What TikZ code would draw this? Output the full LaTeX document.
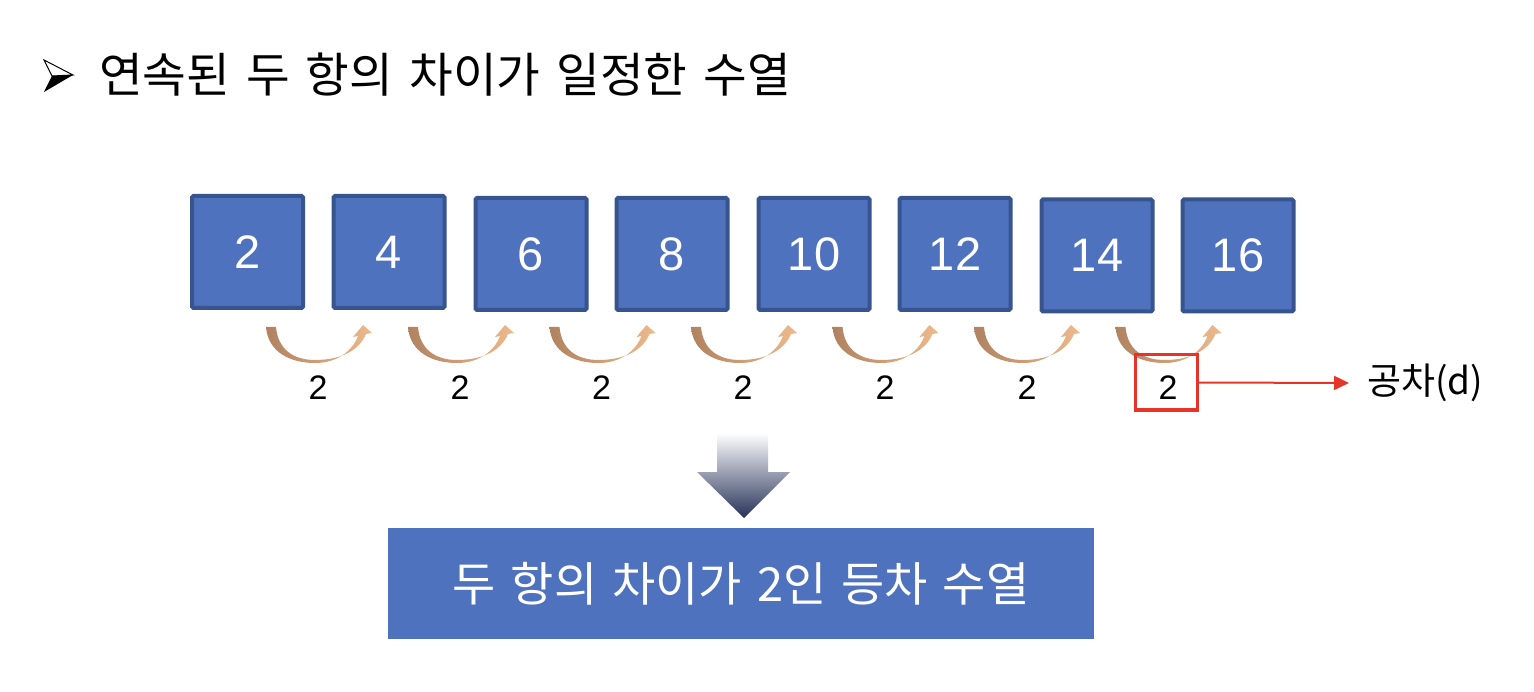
\documentclass[tikz,border=0pt]{standalone}
\usepackage{fontspec}
\setmainfont{Liberation Sans}
\newfontfamily\kr{Noto Sans CJK KR}
\usetikzlibrary{arrows.meta}
\definecolor{boxfill}{RGB}{79,114,190}
\definecolor{boxedge}{RGB}{56,84,142}
\definecolor{arcL}{RGB}{176,130,96}
\definecolor{arcR}{RGB}{238,186,140}
\definecolor{redc}{RGB}{232,52,40}
\definecolor{navy}{RGB}{38,50,88}
\newcommand\myArc[1]{%
  \shade[left color=arcL, right color=arcR, shift={(#1,0)}]
    (-52,327) .. controls (-50,352) and (-28,363) .. (-3,363)
    .. controls (18,363) and (34,352) .. (40,336)
    -- (35,337) -- (45,325) -- (54,333) -- (48,334)
    .. controls (41,351) and (22,360) .. (-3,360)
    .. controls (-24,360) and (-40,350) .. (-42,327) -- cycle;}
\newcommand\wsp{\hspace{16pt}}
\begin{document}
\begin{tikzpicture}[x=1pt,y=-1pt,
  numbox/.style={draw=boxedge, fill=boxfill, line width=4pt, rounded corners=1.5pt,
    minimum width=111pt, minimum height=112pt, inner sep=0pt, text=white,
    font=\fontsize{47}{50}\selectfont},
  difflabel/.style={inner sep=0pt, font=\fontsize{34}{40}\selectfont},
  redbox/.style={draw=redc, line width=3pt, minimum width=62pt, minimum height=55pt, inner sep=0pt}]
\useasboundingbox (0,0) rectangle (1534,692);
% title
\draw[line width=1pt] (44,60) -- (73,75) -- (52,76) -- cycle;
\fill (52,76) -- (73,75) -- (44,92) -- cycle;
\node[anchor=west, inner sep=0pt, font=\kr\fontsize{47.5}{50}\selectfont] (title) at (99,75)
  {연속된\wsp 두\wsp 항의\wsp 차이가\wsp 일정한\wsp 수열};
% boxes
\node[numbox] (b1) at (247.5,252) {2};
\node[numbox] (b2) at (389,252) {4};
\node[numbox] (b3) at (531,254) {6};
\node[numbox] (b4) at (672,254) {8};
\node[numbox] (b5) at (814,254) {10};
\node[numbox] (b6) at (955,254) {12};
\node[numbox] (b7) at (1097,255.5) {14};
\node[numbox] (b8) at (1238,255.5) {16};
% curved arrows
\myArc{318}
\myArc{460}
\myArc{601.5}
\myArc{743}
\myArc{884.5}
\myArc{1026}
\myArc{1167.5}
% difference labels
\node[difflabel] (d1) at (318,388) {2};
\node[difflabel] (d2) at (460,388) {2};
\node[difflabel] (d3) at (601.5,388) {2};
\node[difflabel] (d4) at (743,388) {2};
\node[difflabel] (d5) at (885,388) {2};
\node[difflabel] (d6) at (1027,388) {2};
\node[difflabel] (d7) at (1168,388) {2};
\node[redbox] (dbox) at (1166,382.5) {};
\node[anchor=west, inner sep=0pt, font=\kr\fontsize{37}{42}\selectfont] (gc) at (1367,383) {공차(d)};
\draw[redc, line width=2pt, -{Triangle[length=15pt,width=14pt]}] (dbox.east) -- ([xshift=-18pt]gc.west);
% down arrow
\shade[top color=white, bottom color=navy]
  (717,433) -- (768,433) -- (768,472) -- (790,472) -- (744,518) -- (697,472) -- (717,472) -- cycle;
% result
\node[fill=boxfill, minimum width=706pt, minimum height=111pt, inner sep=0pt, text=white,
  font=\kr\fontsize{47}{50}\selectfont] (res) at (741,583.5)
  {두\hspace{15pt}항의\hspace{15pt}차이가\hspace{15pt}2인\hspace{15pt}등차\hspace{15pt}수열};
\end{tikzpicture}
\end{document}
